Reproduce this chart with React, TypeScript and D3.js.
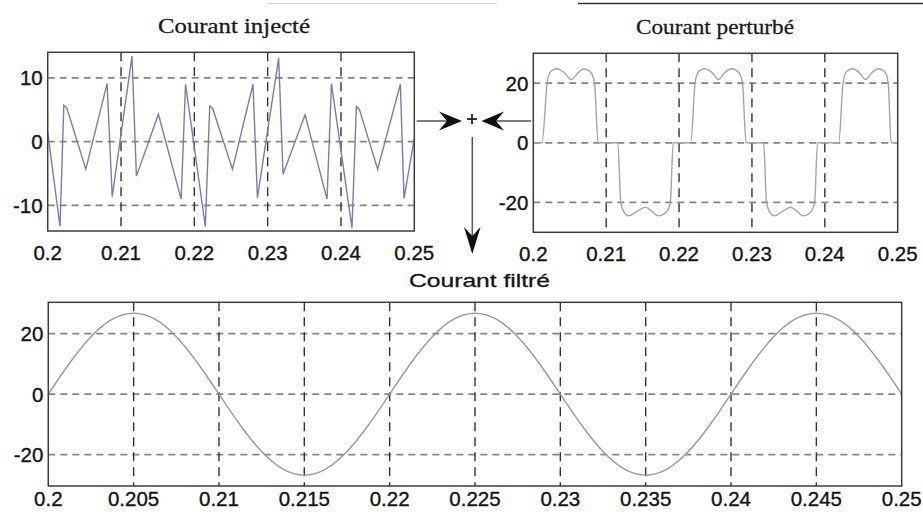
import React from "react";
import * as d3 from "d3";

// Injected current (sawtooth-like compensation signal), vertices [s, A]
const injT = [
  0.2, 0.20168, 0.2022, 0.2026, 0.2052, 0.2081, 0.2088, 0.2115, 0.2121, 0.2151,
  0.2182, 0.2188, 0.2215, 0.2221, 0.2225, 0.2252, 0.228, 0.2286, 0.2315, 0.2321,
  0.2351, 0.2381, 0.2387, 0.2415, 0.2421, 0.2425, 0.245, 0.2481, 0.2486, 0.25,
];
const injV = [
  1.5, -13.3, 5.7, 5.3, -4.3, 9.1, -8.6, 13.4, -5.4, 4.3,
  -9.0, 9.0, -13.3, 5.6, 5.2, -4.3, 9.0, -8.8, 13.1, -5.1,
  4.2, -9.0, 9.1, -13.5, 5.5, 5.1, -4.3, 9.0, -8.9, 0.5,
];

// Disturbed load current (quasi-square pulses with a double hump)
const pertT = [
  0.2, 0.2012, 0.2019, 0.2023, 0.2032, 0.2042, 0.2052, 0.2062, 0.2069, 0.2079, 0.2084, 0.2089,
  0.2116, 0.212, 0.2124, 0.2131, 0.2142, 0.2154, 0.2163, 0.2171, 0.2183, 0.2188, 0.2192,
  0.2216, 0.2222, 0.2226, 0.2235, 0.2245, 0.2254, 0.2263, 0.2272, 0.2282, 0.2287, 0.2292,
  0.2316, 0.232, 0.2324, 0.2331, 0.2342, 0.2353, 0.2362, 0.237, 0.2381, 0.2386, 0.239,
  0.2419, 0.2425, 0.2429, 0.2438, 0.2447, 0.2456, 0.2465, 0.2474, 0.2483, 0.2487, 0.2491, 0.25,
];
const pertV = [
  0, 0, 20, 23.6, 24.8, 23.6, 21.2, 23.6, 24.8, 23.6, 20, 0,
  0, -20, -23.1, -24.5, -23, -21.6, -23, -24.5, -23.1, -20, 0,
  0, 20, 23.6, 24.8, 23.6, 21.2, 23.6, 24.8, 23.6, 20, 0,
  0, -20, -23.1, -24.5, -23, -21.6, -23, -24.5, -23.1, -20, 0,
  0, 20, 23.6, 24.8, 23.6, 21.2, 23.6, 24.8, 23.6, 20, 0, 0,
];

// Filtered (sinusoidal) current, sampled every 1.25 ms
const filtT = [
  0.2, 0.20125, 0.2025, 0.20375, 0.205, 0.20625, 0.2075, 0.20875, 0.21, 0.21125,
  0.2125, 0.21375, 0.215, 0.21625, 0.2175, 0.21875, 0.22, 0.22125, 0.2225, 0.22375,
  0.225, 0.22625, 0.2275, 0.22875, 0.23, 0.23125, 0.2325, 0.23375, 0.235, 0.23625,
  0.2375, 0.23875, 0.24, 0.24125, 0.2425, 0.24375, 0.245, 0.24625, 0.2475, 0.24875, 0.25,
];
const filtV = [
  0, 10.3, 19.0, 24.8, 26.8, 24.8, 19.0, 10.3, 0, -10.3,
  -19.0, -24.8, -26.8, -24.8, -19.0, -10.3, 0, 10.3, 19.0, 24.8,
  26.8, 24.8, 19.0, 10.3, 0, -10.3, -19.0, -24.8, -26.8, -24.8,
  -19.0, -10.3, 0, 10.3, 19.0, 24.8, 26.8, 24.8, 19.0, 10.3, 0,
];

const xTicksTop = [0.2, 0.21, 0.22, 0.23, 0.24, 0.25];
const xTicksBottom = [0.2, 0.205, 0.21, 0.215, 0.22, 0.225, 0.23, 0.235, 0.24, 0.245, 0.25];
const yTicksInj = [10, 0, -10];
const yTicksPert = [20, 0, -20];
const yTicksFilt = [20, 0, -20];

const fmt = (v: number) => String(+v.toFixed(3));

type PanelProps = {
  left: number;
  right: number;
  top: number;
  bottom: number;
  yDomain: [number, number];
  xTicks: number[];
  yTicks: number[];
  t: number[];
  v: number[];
  color: string;
  curve: d3.CurveFactory;
  xLabelY: number;
};

function Panel(p: PanelProps) {
  const x = d3.scaleLinear().domain([0.2, 0.25]).range([p.left, p.right]);
  const y = d3.scaleLinear().domain(p.yDomain).range([p.bottom, p.top]);
  const pts = p.t.map((tt, i) => [tt, p.v[i]] as [number, number]);
  const line = d3
    .line<[number, number]>()
    .x((d) => x(d[0]))
    .y((d) => y(d[1]))
    .curve(p.curve);
  const font = "'Liberation Sans', Arial, sans-serif";
  return (
    <g>
      {p.yTicks.map((tk) => (
        <line
          key={"h" + tk}
          x1={p.left}
          x2={p.right}
          y1={y(tk)}
          y2={y(tk)}
          stroke="#858585"
          strokeWidth={1.7}
          strokeDasharray="7 5"
        />
      ))}
      {p.xTicks
        .filter((tk) => tk > 0.2001 && tk < 0.2499)
        .map((tk) => (
          <line
            key={"v" + tk}
            x1={x(tk)}
            x2={x(tk)}
            y1={p.top}
            y2={p.bottom}
            stroke="#333"
            strokeWidth={1.4}
            strokeDasharray="9 6"
          />
        ))}
      <path d={line(pts) || ""} fill="none" stroke={p.color} strokeWidth={1.4} />
      <rect
        x={p.left}
        y={p.top}
        width={p.right - p.left}
        height={p.bottom - p.top}
        fill="none"
        stroke="#3c3c3c"
        strokeWidth={1.5}
      />
      {p.yTicks.map((tk) => (
        <text
          key={"yl" + tk}
          x={p.left - 5}
          y={y(tk)}
          textAnchor="end"
          dominantBaseline="central"
          fontFamily={font}
          fontSize={20.5}
          fill="#151515"
          stroke="#151515"
          strokeWidth={0.35}
        >
          {tk}
        </text>
      ))}
      {p.xTicks.map((tk) => (
        <text
          key={"xl" + tk}
          x={x(tk)}
          y={p.xLabelY}
          textAnchor="middle"
          dominantBaseline="central"
          fontFamily={font}
          fontSize={20.5}
          fill="#151515"
          stroke="#151515"
          strokeWidth={0.35}
        >
          {fmt(tk)}
        </text>
      ))}
    </g>
  );
}

export default function App() {
  const serif = "'Liberation Serif', 'Times New Roman', serif";
  return (
    <svg
      width={923}
      height={517}
      style={{ position: "absolute", left: 0, top: 0, background: "#fff" }}
    >
      <rect x={0} y={0} width={923} height={517} fill="#fff" />
      {/* page edge strokes */}
      <line x1={267} x2={497} y1={3.5} y2={3.5} stroke="#d8d8d8" strokeWidth={1.2} />
      <line x1={578} x2={923} y1={3.5} y2={3.5} stroke="#333" strokeWidth={1.5} />

      <text
        x={234}
        y={32.5}
        textAnchor="middle"
        fontFamily={serif}
        fontSize={21}
        fill="#1a1a1a"
        stroke="#1a1a1a"
        strokeWidth={0.3}
        textLength={152}
        lengthAdjust="spacingAndGlyphs"
      >
        Courant injecté
      </text>
      <text
        x={715}
        y={34}
        textAnchor="middle"
        fontFamily={serif}
        fontSize={21}
        fill="#1a1a1a"
        stroke="#1a1a1a"
        strokeWidth={0.3}
        textLength={158}
        lengthAdjust="spacingAndGlyphs"
      >
        Courant perturbé
      </text>
      <text
        x={479.5}
        y={287}
        textAnchor="middle"
        fontFamily="'Liberation Sans', Arial, sans-serif"
        fontSize={19}
        fill="#151515"
        stroke="#151515"
        strokeWidth={0.3}
        textLength={141}
        lengthAdjust="spacingAndGlyphs"
      >
        Courant filtré
      </text>

      <Panel
        left={47.7}
        right={414.3}
        top={52.3}
        bottom={231}
        yDomain={[-14, 14]}
        xTicks={xTicksTop}
        yTicks={yTicksInj}
        t={injT}
        v={injV}
        color="#7c7cac"
        curve={d3.curveLinear}
        xLabelY={252}
      />
      <Panel
        left={533.3}
        right={897.7}
        top={53.3}
        bottom={232.3}
        yDomain={[-30, 30]}
        xTicks={xTicksTop}
        yTicks={yTicksPert}
        t={pertT}
        v={pertV}
        color="#a4a4ae"
        curve={d3.curveMonotoneX}
        xLabelY={253}
      />
      <Panel
        left={48.3}
        right={901.7}
        top={302.3}
        bottom={486}
        yDomain={[-30.4, 30.4]}
        xTicks={xTicksBottom}
        yTicks={yTicksFilt}
        t={filtT}
        v={filtV}
        color="#9a9a9a"
        curve={d3.curveNatural}
        xLabelY={498}
      />

      {/* summing junction and arrows */}
      <line x1={416.7} x2={452} y1={121} y2={121} stroke="#555" strokeWidth={1.5} />
      <path d="M462,121 L439,111.5 L447,121 L439,130.5 Z" fill="#111" />
      <line x1={531} x2={492} y1={121} y2={121} stroke="#555" strokeWidth={1.5} />
      <path d="M481.5,121 L504,111.5 L496,121 L504,130.5 Z" fill="#111" />
      <line x1={467} x2={477} y1={119} y2={119} stroke="#222" strokeWidth={1.8} />
      <line x1={472} x2={472} y1={114} y2={124} stroke="#222" strokeWidth={1.8} />
      <line x1={472.3} x2={472.3} y1={137} y2={240} stroke="#555" strokeWidth={1.5} />
      <path d="M472.3,254 L464,227 L472.3,236 L480.6,227 Z" fill="#111" />
    </svg>
  );
}
